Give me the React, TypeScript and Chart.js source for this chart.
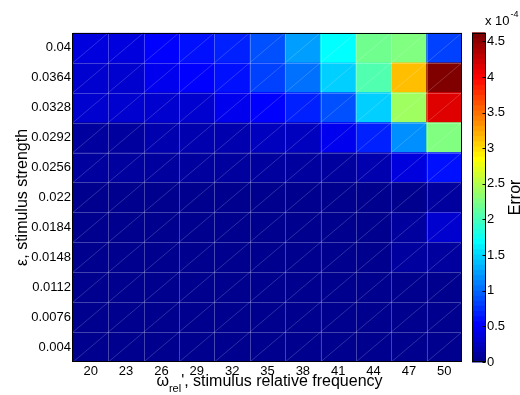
import React, { useEffect, useRef } from "react";
import { Chart, registerables } from "chart.js";

Chart.register(...registerables);

// ---- data ----
const frequencyLabels = ["20", "23", "26", "29", "32", "35", "38", "41", "44", "47", "50"];
const strengthValues = [0.004, 0.0076, 0.0112, 0.0148, 0.0184, 0.022, 0.0256, 0.0292, 0.0328, 0.0364, 0.04];
const strengthLabels = ["0.004", "0.0076", "0.0112", "0.0148", "0.0184", "0.022", "0.0256", "0.0292", "0.0328", "0.0364", "0.04"];
const strengthStep = 0.0036;

// Error (x 1e-4), one array per stimulus strength, columns follow frequencyLabels
const error_0_004 = [0.03, 0.03, 0.03, 0.03, 0.03, 0.03, 0.03, 0.03, 0.03, 0.04, 0.04];
const error_0_0076 = [0.03, 0.03, 0.03, 0.03, 0.03, 0.03, 0.03, 0.03, 0.04, 0.04, 0.05];
const error_0_0112 = [0.04, 0.04, 0.04, 0.04, 0.04, 0.04, 0.04, 0.04, 0.05, 0.06, 0.05];
const error_0_0148 = [0.04, 0.04, 0.04, 0.04, 0.04, 0.04, 0.04, 0.05, 0.05, 0.12, 0.09];
const error_0_0184 = [0.05, 0.05, 0.05, 0.05, 0.05, 0.05, 0.05, 0.05, 0.06, 0.12, 0.29];
const error_0_022 = [0.05, 0.05, 0.05, 0.05, 0.05, 0.05, 0.05, 0.05, 0.06, 0.03, 0.1];
const error_0_0256 = [0.08, 0.08, 0.08, 0.08, 0.08, 0.08, 0.09, 0.1, 0.16, 0.38, 0.6];
const error_0_0292 = [0.11, 0.11, 0.15, 0.18, 0.18, 0.25, 0.25, 0.47, 0.72, 1.19, 2.27];
const error_0_0328 = [0.32, 0.32, 0.33, 0.35, 0.47, 0.54, 0.66, 0.9, 1.48, 2.42, 4.15];
const error_0_0364 = [0.32, 0.36, 0.47, 0.54, 0.6, 0.8, 1.06, 1.48, 2.08, 3.14, 4.62];
const error_0_04 = [0.4, 0.43, 0.54, 0.6, 0.68, 0.9, 1.26, 1.7, 2.18, 2.27, 0.85];
const errorRows = [
  error_0_004, error_0_0076, error_0_0112, error_0_0148, error_0_0184, error_0_022,
  error_0_0256, error_0_0292, error_0_0328, error_0_0364, error_0_04,
];

const colorbarTicks = [0, 0.5, 1, 1.5, 2, 2.5, 3, 3.5, 4, 4.5];
const colorMin = 0;
const colorMax = 4.62;

// ---- MATLAB jet(64) colormap ----
function buildJet(n: number): number[][] {
  const m = Math.round(n / 4);
  const u: number[] = [];
  for (let i = 1; i <= m; i++) u.push(i / m);
  for (let i = 1; i <= m - 1; i++) u.push(1);
  for (let i = m; i >= 1; i--) u.push(i / m);
  const gOff = Math.ceil(m / 2) - (n % 4 === 1 ? 1 : 0);
  const J: number[][] = [];
  for (let i = 0; i < n; i++) J.push([0, 0, 0]);
  for (let k = 0; k < u.length; k++) {
    const g = gOff + k + 1;
    const r = g + m;
    const b = g - m;
    if (r >= 1 && r <= n) J[r - 1][0] = u[k];
    if (g >= 1 && g <= n) J[g - 1][1] = u[k];
    if (b >= 1 && b <= n) J[b - 1][2] = u[k];
  }
  return J;
}
const JET = buildJet(64);
const rgb = (c: number[]) =>
  `rgb(${Math.round(c[0] * 255)},${Math.round(c[1] * 255)},${Math.round(c[2] * 255)})`;
function jetColor(v: number): string {
  let idx = Math.floor(((v - colorMin) / (colorMax - colorMin)) * JET.length);
  idx = Math.max(0, Math.min(JET.length - 1, idx));
  return rgb(JET[idx]);
}

const FONT = '"Liberation Sans", Arial, Helvetica, sans-serif';

const decorPlugin = {
  id: "heatDecor",
  afterDatasetsDraw(chart: any) {
    const { ctx, chartArea: a, scales } = chart;
    const xs = scales.x;
    const ys = scales.y;
    const w = xs.getPixelForValue(1) - xs.getPixelForValue(0);
    const colEdges: number[] = [];
    for (let i = 0; i <= frequencyLabels.length; i++) colEdges.push(xs.getPixelForValue(i) - w / 2);
    const rowEdges: number[] = [];
    for (let r = 0; r < strengthValues.length; r++) rowEdges.push(ys.getPixelForValue(strengthValues[r] - strengthStep / 2));
    rowEdges.push(ys.getPixelForValue(strengthValues[strengthValues.length - 1] + strengthStep / 2));

    ctx.save();
    ctx.beginPath();
    ctx.rect(a.left, a.top, a.right - a.left, a.bottom - a.top);
    ctx.clip();
    // diagonals
    ctx.strokeStyle = "rgba(255,255,255,0.3)";
    ctx.lineWidth = 0.6;
    ctx.beginPath();
    for (let c = 0; c < frequencyLabels.length; c++) {
      for (let r = 0; r < strengthValues.length; r++) {
        ctx.moveTo(colEdges[c], rowEdges[r]);
        ctx.lineTo(colEdges[c + 1], rowEdges[r + 1]);
      }
    }
    ctx.stroke();
    // cell edges
    ctx.strokeStyle = "rgba(255,255,255,0.26)";
    ctx.lineWidth = 1;
    ctx.beginPath();
    for (let i = 1; i < colEdges.length - 1; i++) {
      const x = Math.round(colEdges[i]) + 0.5;
      ctx.moveTo(x, a.top);
      ctx.lineTo(x, a.bottom);
    }
    for (let i = 1; i < rowEdges.length - 1; i++) {
      const y = Math.round(rowEdges[i]) + 0.5;
      ctx.moveTo(a.left, y);
      ctx.lineTo(a.right, y);
    }
    ctx.stroke();
    ctx.restore();

    // axes box
    ctx.save();
    ctx.strokeStyle = "#000";
    ctx.lineWidth = 1;
    ctx.strokeRect(Math.round(a.left) - 0.5, Math.round(a.top) + 0.5, Math.round(a.right - a.left), Math.round(a.bottom - a.top) - 1);
    ctx.restore();
  },
  afterDraw(chart: any) {
    const { ctx, chartArea: a, scales } = chart;
    const cb = scales.cb;
    const barL = a.right + 10;
    const barW = 13.5;
    ctx.save();
    // colorbar bands
    for (let k = 0; k < JET.length; k++) {
      const v0 = colorMin + (k * (colorMax - colorMin)) / JET.length;
      const v1 = colorMin + ((k + 1) * (colorMax - colorMin)) / JET.length;
      const y0 = cb.getPixelForValue(v0);
      const y1 = cb.getPixelForValue(v1);
      ctx.fillStyle = rgb(JET[k]);
      ctx.fillRect(barL, y1 - 0.5, barW, y0 - y1 + 1);
    }
    ctx.strokeStyle = "#000";
    ctx.lineWidth = 1;
    const yTop = cb.getPixelForValue(colorMax);
    const yBot = cb.getPixelForValue(colorMin);
    ctx.strokeRect(barL + 0.5, Math.round(yTop) + 0.5, barW - 0.5, Math.round(yBot - yTop) - 1);
    // colorbar ticks (inward, right side)
    ctx.beginPath();
    for (const t of colorbarTicks) {
      const y = Math.round(cb.getPixelForValue(t)) + 0.5;
      ctx.moveTo(barL + barW, y);
      ctx.lineTo(barL + barW - 3, y);
    }
    ctx.stroke();

    ctx.fillStyle = "#000";
    // exponent label
    ctx.font = `13px ${FONT}`;
    ctx.textAlign = "left";
    ctx.textBaseline = "alphabetic";
    ctx.fillText("x 10", 485, 25);
    const wx = ctx.measureText("x 10").width;
    ctx.font = `9px ${FONT}`;
    ctx.fillText("-4", 485 + wx + 1, 17);

    // colorbar label
    ctx.save();
    ctx.font = `16px ${FONT}`;
    ctx.translate(519.5, (a.top + a.bottom) / 2);
    ctx.rotate(-Math.PI / 2);
    ctx.textAlign = "center";
    ctx.textBaseline = "alphabetic";
    ctx.fillText("Error", 0, 0);
    ctx.restore();

    // y title
    ctx.save();
    ctx.font = `16px ${FONT}`;
    ctx.translate(27, (a.top + a.bottom) / 2);
    ctx.rotate(-Math.PI / 2);
    ctx.textAlign = "center";
    ctx.textBaseline = "alphabetic";
    ctx.fillText("\u03b5, stimulus strength", 0, 0);
    ctx.restore();

    // x title with subscript
    const big = `16px ${FONT}`;
    const small = `11px ${FONT}`;
    const p1 = "\u03c9";
    const p2 = "rel";
    const p3 = "', stimulus relative frequency";
    ctx.font = big;
    const w1 = ctx.measureText(p1).width;
    const w3 = ctx.measureText(p3).width;
    ctx.font = small;
    const w2 = ctx.measureText(p2).width;
    const total = w1 + w2 + w3;
    let x = (a.left + a.right) / 2 + 2 - total / 2;
    const base = 386;
    ctx.textAlign = "left";
    ctx.font = big;
    ctx.fillText(p1, x, base);
    x += w1;
    ctx.font = small;
    ctx.fillText(p2, x, base + 6);
    x += w2;
    ctx.font = big;
    ctx.fillText(p3, x, base);
    ctx.restore();
  },
};

export default function App() {
  const ref = useRef<HTMLCanvasElement>(null);

  useEffect(() => {
    const canvas = ref.current;
    if (!canvas) return;
    const datasets = errorRows.map((row, r) => ({
      label: strengthLabels[r],
      data: row.map(() => [strengthValues[r] - strengthStep / 2, strengthValues[r] + strengthStep / 2]),
      backgroundColor: row.map((v) => jetColor(v)),
      borderWidth: 0,
      borderSkipped: false,
      barPercentage: 1,
      categoryPercentage: 1,
      grouped: false,
      yAxisID: "y",
      xAxisID: "x",
    }));

    const chart = new Chart(canvas, {
      type: "bar",
      data: { labels: frequencyLabels, datasets: datasets as any },
      options: {
        responsive: false,
        animation: false,
        devicePixelRatio: 1,
        layout: { padding: { top: 27, left: 0, right: 0, bottom: 0 } },
        plugins: { legend: { display: false }, tooltip: { enabled: false }, title: { display: false } },
        scales: {
          x: {
            type: "category",
            offset: true,
            grid: { display: false, drawTicks: false },
            border: { display: false },
            ticks: {
              color: "#000",
              font: { family: FONT, size: 13 },
              padding: 2,
              maxRotation: 0,
              autoSkip: false,
            },
            afterFit: (s: any) => {
              s.height = 33;
            },
          },
          y: {
            type: "linear",
            position: "left",
            min: strengthValues[0] - strengthStep / 2,
            max: strengthValues[strengthValues.length - 1] + strengthStep / 2,
            grid: { display: false, drawTicks: false },
            border: { display: false },
            ticks: {
              color: "#000",
              font: { family: FONT, size: 13 },
              padding: 2,
              autoSkip: false,
              callback: (v: any) => {
                let best = 0;
                for (let i = 0; i < strengthValues.length; i++) {
                  if (Math.abs(strengthValues[i] - v) < Math.abs(strengthValues[best] - v)) best = i;
                }
                return strengthLabels[best];
              },
            },
            afterBuildTicks: (s: any) => {
              s.ticks = strengthValues.map((v) => ({ value: v }));
            },
            afterFit: (s: any) => {
              s.width = 73;
            },
          },
          cb: {
            type: "linear",
            position: "right",
            min: colorMin,
            max: colorMax,
            grid: { display: false, drawTicks: false, drawOnChartArea: false },
            border: { display: false },
            ticks: {
              color: "#000",
              font: { family: FONT, size: 13 },
              padding: 25,
              autoSkip: false,
              callback: (v: any) => String(v),
            },
            afterBuildTicks: (s: any) => {
              s.ticks = colorbarTicks.map((v) => ({ value: v }));
            },
            afterFit: (s: any) => {
              s.width = 58;
            },
          },
        },
      } as any,
      plugins: [decorPlugin],
    });

    return () => chart.destroy();
  }, []);

  return (
    <div style={{ position: "absolute", left: 0, top: 0, width: 520, height: 395, background: "#fff" }}>
      <canvas ref={ref} width={520} height={395} style={{ display: "block", width: 520, height: 395 }} />
    </div>
  );
}
